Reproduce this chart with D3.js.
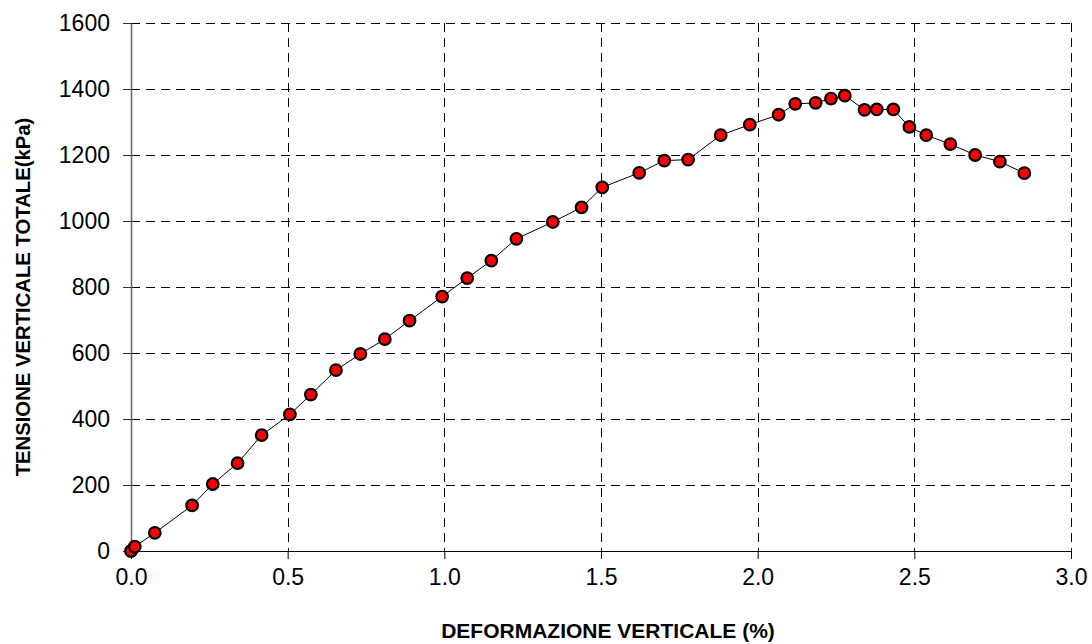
<!DOCTYPE html>
<html>
<head>
<meta charset="utf-8">
<script src="https://cdn.jsdelivr.net/npm/d3@7"></script>
<style>
  html, body { margin: 0; padding: 0; background: #fff; }
  svg { display: block; }
  text { font-family: "Liberation Sans", Arial, sans-serif; fill: #000; }
</style>
</head>
<body>
<svg id="chart" width="1092" height="644"></svg>
<script>
// Vertical strain (%) and total vertical stress (kPa) for each reading
const strain = [0.000, 0.012, 0.076, 0.195, 0.261, 0.340, 0.417, 0.507, 0.574, 0.654,
                0.732, 0.810, 0.889, 0.993, 1.073, 1.150, 1.230, 1.346, 1.438, 1.504,
                1.622, 1.702, 1.778, 1.882, 1.975, 2.067, 2.120, 2.185, 2.234, 2.278,
                2.341, 2.380, 2.433, 2.484, 2.538, 2.615, 2.694, 2.773, 2.851];
const stress = [0, 13, 55, 138, 203, 266, 351, 414, 474, 548,
                597, 642, 698, 771, 827, 880, 946, 997, 1041, 1102,
                1146, 1183, 1186, 1260, 1292, 1322, 1355, 1358, 1371, 1380,
                1337, 1338, 1338, 1285, 1260, 1233, 1200, 1180, 1145];

const xTicks = [0, 0.5, 1.0, 1.5, 2.0, 2.5, 3.0];
const yTicks = [0, 200, 400, 600, 800, 1000, 1200, 1400, 1600];

const xTitle = "DEFORMAZIONE VERTICALE (%)";
const yTitle = "TENSIONE VERTICALE TOTALE(kPa)";

const svg = d3.select("#chart");

const x = d3.scaleLinear().domain([0, 3]).range([131, 1071]);
const y = d3.scaleLinear().domain([0, 1600]).range([551, 23]);

const data = strain.map((s, i) => ({ s, t: stress[i] }));

// Dashed grid
const grid = svg.append("g");
grid.selectAll("line.h")
  .data(yTicks.filter(v => v > 0))
  .join("line")
  .attr("x1", x(0)).attr("x2", x(3))
  .attr("y1", d => Math.round(y(d)) + 0.5).attr("y2", d => Math.round(y(d)) + 0.5)
  .attr("stroke", "#000").attr("stroke-width", 1)
  .attr("stroke-dasharray", "9,6");
grid.selectAll("line.v")
  .data(xTicks.filter(v => v > 0))
  .join("line")
  .attr("x1", d => Math.round(x(d)) + 0.5).attr("x2", d => Math.round(x(d)) + 0.5)
  .attr("y1", y(1600)).attr("y2", y(0))
  .attr("stroke", "#000").attr("stroke-width", 1)
  .attr("stroke-dasharray", "9,6");

// Axes
const xAxis = d3.axisBottom(x).tickValues(xTicks).tickFormat(d3.format(".1f"))
  .tickSizeInner(8).tickSizeOuter(0).tickPadding(10);
const gx = svg.append("g").attr("transform", `translate(0,${y(0)})`).call(xAxis);
gx.select(".domain").attr("stroke", "#000");
gx.selectAll(".tick line").attr("stroke", "#000");
gx.selectAll(".tick text").attr("font-size", 23).attr("font-family", "Liberation Sans, Arial, sans-serif");

const yAxis = d3.axisLeft(y).tickValues(yTicks).tickFormat(d3.format("d"))
  .tickSizeInner(8).tickSizeOuter(0).tickPadding(13);
const gy = svg.append("g").attr("transform", `translate(${x(0)},0)`).call(yAxis);
gy.select(".domain").attr("stroke", "#666").attr("stroke-width", 1.5);
gy.selectAll(".tick line").attr("stroke", "#333");
gy.selectAll(".tick text").attr("font-size", 23).attr("font-family", "Liberation Sans, Arial, sans-serif");
svg.selectAll(".tick text").attr("fill", "#000");

// Data line and markers
svg.append("path")
  .datum(data)
  .attr("fill", "none")
  .attr("stroke", "#000")
  .attr("stroke-width", 1)
  .attr("d", d3.line().x(d => x(d.s)).y(d => y(d.t)));

svg.append("g").selectAll("circle")
  .data(data)
  .join("circle")
  .attr("cx", d => x(d.s))
  .attr("cy", d => y(d.t))
  .attr("r", 5.8)
  .attr("fill", "#ff0000")
  .attr("stroke", "#000")
  .attr("stroke-width", 2.2);

// Axis titles
svg.append("text")
  .attr("x", 608).attr("y", 638)
  .attr("text-anchor", "middle")
  .attr("font-size", 21).attr("font-weight", "bold")
  .text(xTitle);

svg.append("text")
  .attr("transform", "translate(30,297) rotate(-90)")
  .attr("text-anchor", "middle")
  .attr("font-size", 20.3).attr("font-weight", "bold")
  .text(yTitle);
</script>
</body>
</html>
